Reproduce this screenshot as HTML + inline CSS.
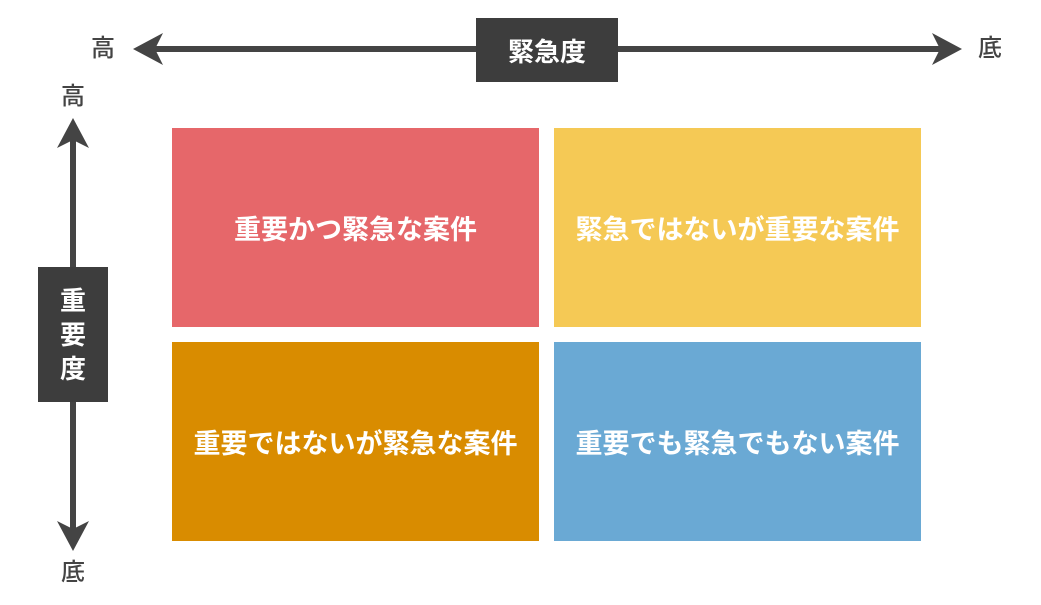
<!DOCTYPE html>
<html><head><meta charset="utf-8"><style>
body{margin:0;width:1041px;height:605px;background:#fff;position:relative;overflow:hidden;font-family:"Liberation Sans","Noto Sans CJK JP",sans-serif}
.t{position:absolute;color:#444;font-size:24px;line-height:24px;font-weight:500}
.q{position:absolute;display:flex;align-items:center;justify-content:center;color:#fff;font-size:27px;font-weight:bold}
.lab{position:absolute;background:#3d3d3d;color:#fff;font-weight:bold;font-size:26px;display:flex;align-items:center;justify-content:center}
</style></head><body>
<svg width="1041" height="605" style="position:absolute;left:0;top:0">
<g fill="#444">
<rect x="150" y="46" width="795" height="6"/>
<polygon points="133,49 163,33 155,49 163,65"/>
<polygon points="962,49 932,33 940,49 932,65"/>
<rect x="70" y="135" width="6" height="400"/>
<polygon points="73,118 57,148 73,140 89,148"/>
<polygon points="73,551 57,521 73,529 89,521"/>
</g></svg>
<div class="t" style="left:91px;top:37px">高</div>
<div class="t" style="left:978px;top:37px">底</div>
<div class="t" style="left:61px;top:85px">高</div>
<div class="t" style="left:61px;top:561px">底</div>
<div class="lab" style="left:476px;top:18px;width:142px;height:64px">緊急度</div>
<div class="lab" style="left:38px;top:267px;width:70px;height:135px;flex-direction:column;line-height:34px">重<br>要<br>度</div>
<div class="q" style="left:172px;top:128px;width:367px;height:199px;background:#e6676a">重要かつ緊急な案件</div>
<div class="q" style="left:554px;top:128px;width:367px;height:199px;background:#f5c955">緊急ではないが重要な案件</div>
<div class="q" style="left:172px;top:342px;width:367px;height:199px;background:#d98c00">重要ではないが緊急な案件</div>
<div class="q" style="left:554px;top:342px;width:367px;height:199px;background:#6aa9d4">重要でも緊急でもない案件</div>
</body></html>
